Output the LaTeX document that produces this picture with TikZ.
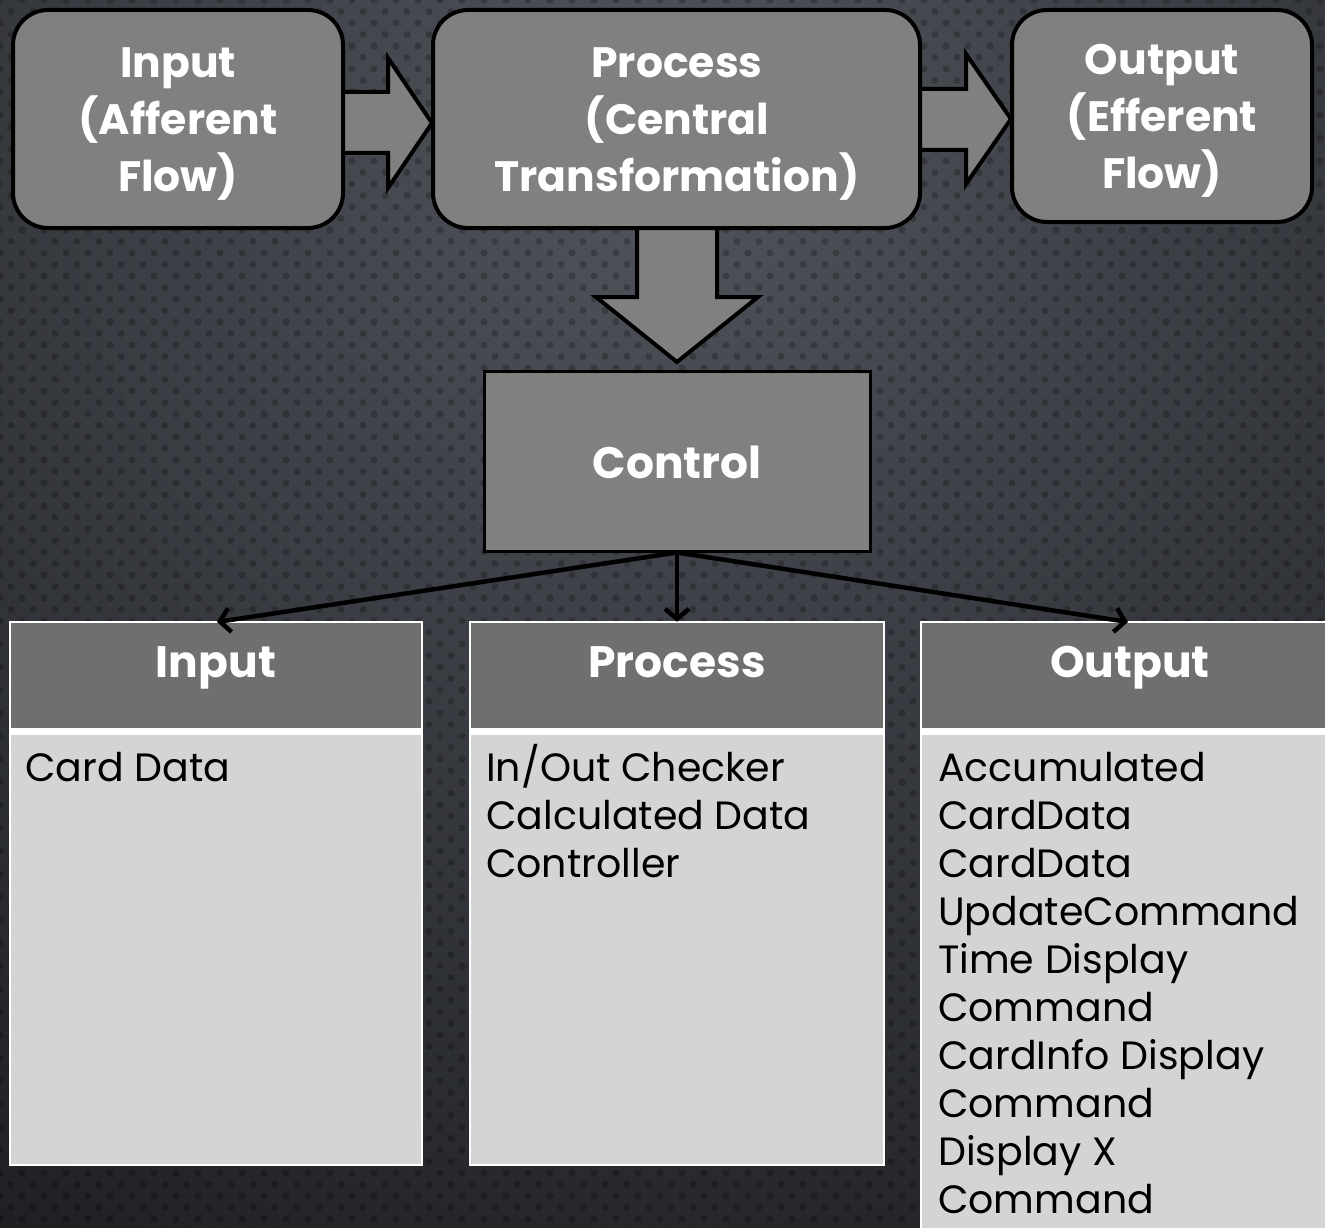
\documentclass[tikz,border=0pt]{standalone}
\usepackage{fontspec}
\setmainfont{Poppins}
\usetikzlibrary{arrows.meta}
\definecolor{bginner}{HTML}{50545C}
\definecolor{bgouter}{HTML}{151618}
\definecolor{topfill}{HTML}{808080}
\definecolor{headfill}{HTML}{6F6F6F}
\definecolor{bodyfill}{HTML}{D4D4D4}
\tikzset{
  topbox/.style={draw=black, line width=4pt, fill=topfill, rounded corners=35pt, inner sep=0pt},
  toptext/.style={text=white, font=\fontsize{42.5}{57}\selectfont\bfseries, align=center, inner sep=0pt, anchor=base},
  blockarrow/.style={draw=black, line width=4pt, fill=topfill, line join=miter},
  ctrlbox/.style={draw=black, line width=3pt, fill=topfill, inner sep=0pt},
  boldtext/.style={text=white, font=\fontsize{44}{52}\selectfont\bfseries, inner sep=0pt, anchor=base},
  headbox/.style={fill=headfill, inner sep=0pt},
  bodybox/.style={fill=bodyfill, inner sep=0pt},
  frame/.style={draw=white, line width=2.5pt},
  listtext/.style={text=black, font=\fontsize{39.5}{48}\selectfont, align=left, inner sep=0pt, anchor=base west},
  linkarrow/.style={draw=black, line width=4.5pt, -{Straight Barb[length=10pt,width=24pt,line width=4.5pt]}}
}
\begin{document}
\begin{tikzpicture}[x=1pt,y=-1pt]
\useasboundingbox (0,0) rectangle (1325,1228);
% background
\begin{scope}
\clip (0,0) rectangle (1325,1228);
\fill[bgouter] (0,0) rectangle (1325,1228);
\shade[inner color=bginner, outer color=bgouter] (662,150) circle (1500);
\foreach \r in {0,...,107}{
  \pgfmathsetmacro{\yy}{\r*11.5}
  \pgfmathsetmacro{\xo}{mod(\r,2)*11}
  \foreach \c in {0,...,61}{
    \fill[black, opacity=0.22] (\xo+\c*22,\yy) circle (3.5);
  }
}
\end{scope}

% block arrows
\draw[blockarrow] (330,92) -- (388,92) -- (388,58) -- (432,123) -- (388,188) -- (388,153) -- (330,153) -- cycle;
\draw[blockarrow] (910,89) -- (966,89) -- (966,54) -- (1011,119) -- (966,184) -- (966,150) -- (910,150) -- cycle;
\draw[blockarrow] (637,215) -- (637,297) -- (596,297) -- (677,362) -- (758,297) -- (717,297) -- (717,215) -- cycle;

% top boxes
\node[topbox, minimum width=330pt, minimum height=218pt] (in1) at (178,119) {};
\node[topbox, minimum width=487pt, minimum height=218pt] (pr1) at (676.5,119) {};
\node[topbox, minimum width=300pt, minimum height=212pt] (out1) at (1162,116) {};
\node[toptext] (in1t) at (178,191) {Input\\(Afferent\\Flow)};
\node[toptext] (pr1t) at (677,191) {Process\\(Central\\Transformation)};
\node[toptext] (out1t) at (1162,188) {Output\\(Efferent\\Flow)};

% control
\node[ctrlbox, minimum width=386pt, minimum height=180pt] (ctrl) at (677,461) {};
\node[boldtext] (ctrlt) at (677,478) {Control};

% bottom boxes: Input
\node[headbox, minimum width=412pt, minimum height=106pt] (ih) at (216,675) {};
\node[bodybox, minimum width=412pt, minimum height=430pt] (ib) at (216,950) {};
\draw[frame] (10,622) rectangle (422,1165);
\draw[white, line width=7pt] (10,731.5) -- (422,731.5);
\node[boldtext] (iht) at (216,677) {Input};
\node[listtext] (it) at (25,781) {Card Data};

% Process
\node[headbox, minimum width=414pt, minimum height=106pt] (ph) at (677,675) {};
\node[bodybox, minimum width=414pt, minimum height=430pt] (pb) at (677,950) {};
\draw[frame] (470,622) rectangle (884,1165);
\draw[white, line width=7pt] (470,731.5) -- (884,731.5);
\node[boldtext] (pht) at (677,677) {Process};
\node[listtext] (pt) at (486,877) {In/Out Checker\\Calculated Data\\Controller};

% Output
\node[headbox, minimum width=420pt, minimum height=106pt] (oh) at (1131,675) {};
\node[bodybox, minimum width=420pt, minimum height=520pt] (ob) at (1131,995) {};
\draw[frame] (921,1250) -- (921,622) -- (1340,622);
\draw[white, line width=7pt] (921,731.5) -- (1340,731.5);
\node[boldtext] (oht) at (1130,677) {Output};
\node[listtext] (ot) at (938,1213) {Accumulated\\CardData\\CardData\\UpdateCommand\\Time Display\\Command\\CardInfo Display\\Command\\Display X\\Command};

% connectors
\coordinate (ia) at (217,622);
\coordinate (oa) at (1128,622);
\draw[linkarrow] (ctrl.south) -- (ia);
\draw[linkarrow] (ctrl.south) -- (ph.north);
\draw[linkarrow] (ctrl.south) -- (oa);
\end{tikzpicture}
\end{document}
